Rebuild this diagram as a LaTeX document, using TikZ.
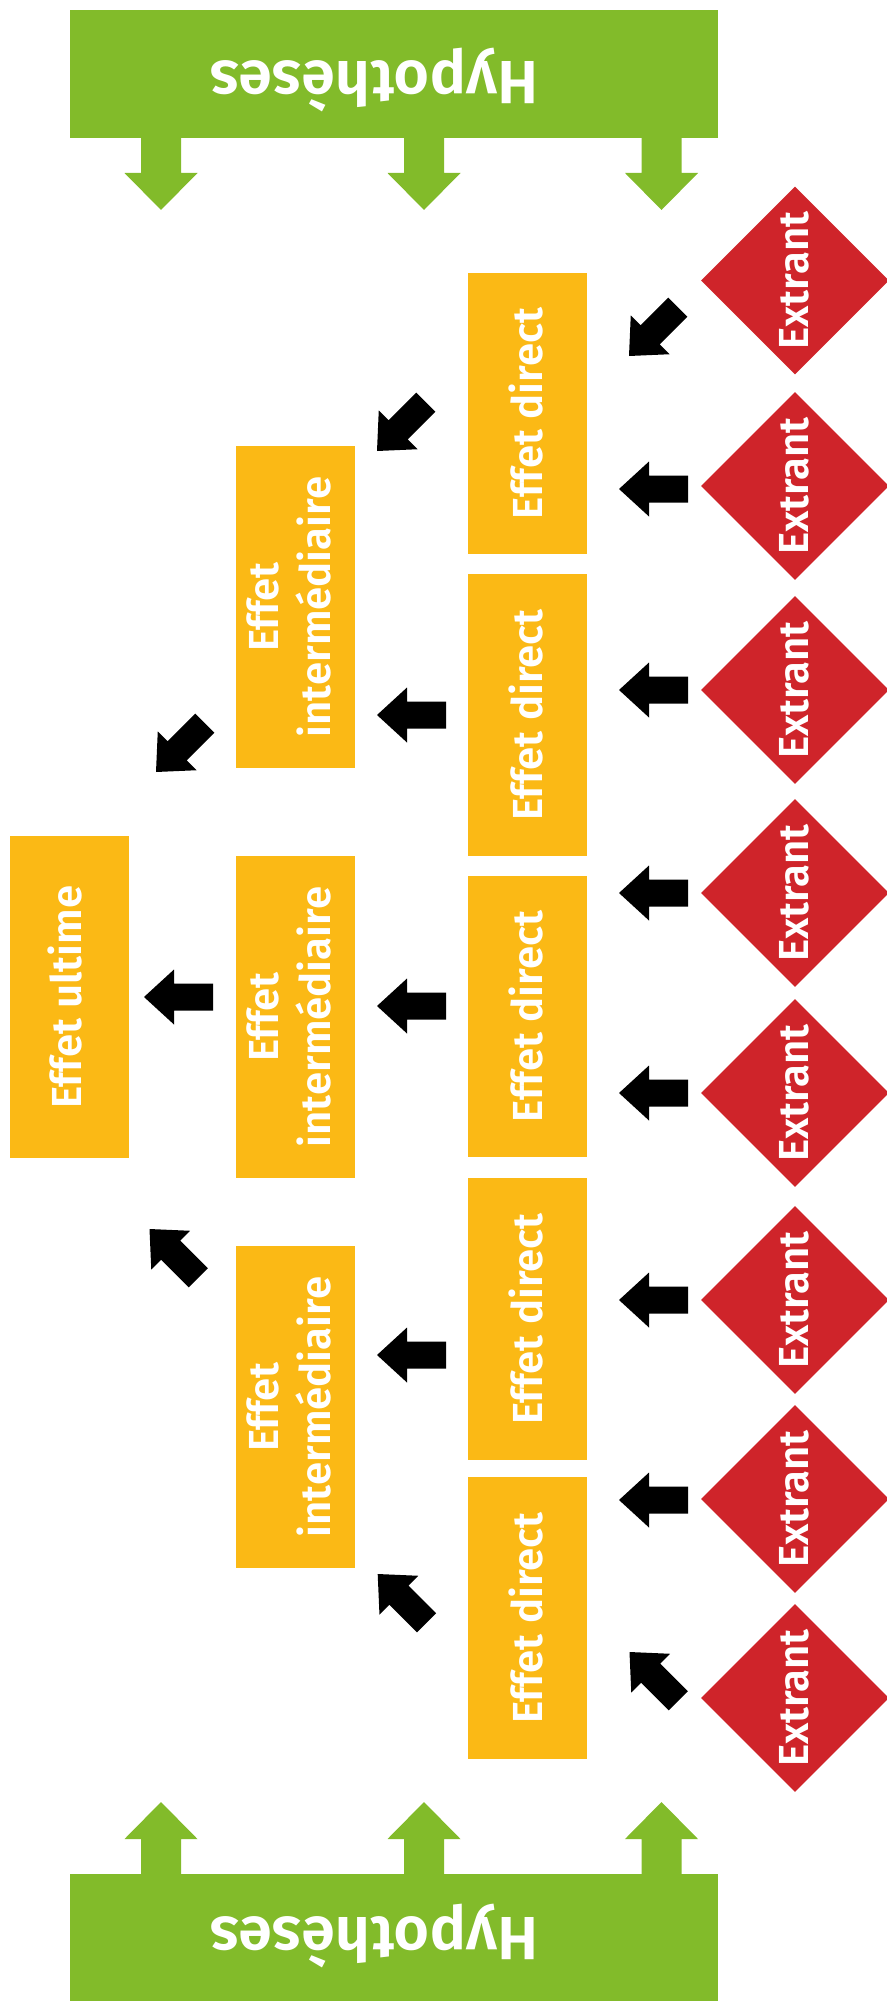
\documentclass[tikz,border=0pt]{standalone}
\usepackage{fontspec}
\setmainfont{Fira Sans}[BoldFont={* SemiBold}]
\usetikzlibrary{shapes.geometric}
\definecolor{hypgreen}{RGB}{130,187,42}
\definecolor{effyellow}{RGB}{251,185,21}
\definecolor{extred}{RGB}{207,36,42}
\begin{document}
\begin{tikzpicture}[x=1pt,y=-1pt,
  extrant/.style={diamond, fill=extred, text=white, minimum width=188pt, minimum height=188pt, inner sep=0pt, rotate=90, font=\bfseries\fontsize{42}{50}\selectfont},
  effbox/.style={rectangle, fill=effyellow, text=white, inner sep=0pt, minimum height=119pt, rotate=90, align=center, font=\bfseries\fontsize{42}{52}\selectfont},
  banner/.style={rectangle, fill=hypgreen, inner sep=0pt, minimum width=648pt},
  hyptext/.style={text=white, rotate=180, anchor=base, inner sep=0pt, font=\bfseries\fontsize{61}{70}\selectfont},
  blockarr/.pic={\fill[black] (0,0) -- (30,-27.5) -- (30,-13.5) -- (69,-13.5) -- (69,13.5) -- (30,13.5) -- (30,27.5) -- cycle;},
  hyparr/.pic={\fill[hypgreen] (-20,-1) -- (20,-1) -- (20,35) -- (36.5,35) -- (0,72) -- (-36.5,35) -- (-20,35) -- cycle;}
]
\useasboundingbox (0,0) rectangle (886,2001);
% hypotheses banners
\node[banner, minimum height=128pt] (hypA) at (394,74) {};
\node[banner, minimum height=128pt] (hypB) at (394,1938) {};
\node[hyptext] (hypAt) at (374,62) {Hypothèses};
\node[hyptext] (hypBt) at (374,1917) {Hypothèses};
\foreach \x in {161,424,661.5} {
  \pic at (\x,138) {hyparr};
  \pic[rotate=180] at (\x,1874) {hyparr};
}
% extrants
\foreach \n/\y in {1/280.5,2/486,3/690,4/893,5/1093,6/1300,7/1499,8/1698}
  \node[extrant] (ex\n) at (795,\y) {Extrant\rule[-2pt]{0pt}{2pt}};
% effets directs
\foreach \n/\y in {1/413.5,2/715,3/1016.5,4/1319,5/1618}
  \node[effbox, minimum width=281.5pt] (d\n) at (527.5,\y) {Effet direct\rule[-3pt]{0pt}{3pt}};
% effets intermediaires
\foreach \n/\y in {1/607,2/1017,3/1407}
  \node[effbox, minimum width=322pt] (i\n) at (295.5,\y) {Effet\\intermédiaire\rule[-14pt]{0pt}{14pt}};
% effet ultime
\node[effbox, minimum width=322pt] (u) at (69.5,997) {Effet ultime\rule[-10pt]{0pt}{10pt}};
% arrows extrant -> effet direct
\pic[rotate=45] at (629,356) {blockarr};
\foreach \y in {489,690,893,1093,1300,1500}
  \pic at (619,\y) {blockarr};
\pic[rotate=-45] at (629.5,1652) {blockarr};
% arrows effet direct -> intermediaire
\pic[rotate=45] at (377,451) {blockarr};
\foreach \y in {715,1006,1355}
  \pic at (377,\y) {blockarr};
\pic[rotate=-45] at (377.7,1574) {blockarr};
% arrows intermediaire -> ultime
\pic[rotate=45] at (156,772) {blockarr};
\pic at (144,997) {blockarr};
\pic[rotate=-45] at (149.5,1229) {blockarr};
\end{tikzpicture}
\end{document}
